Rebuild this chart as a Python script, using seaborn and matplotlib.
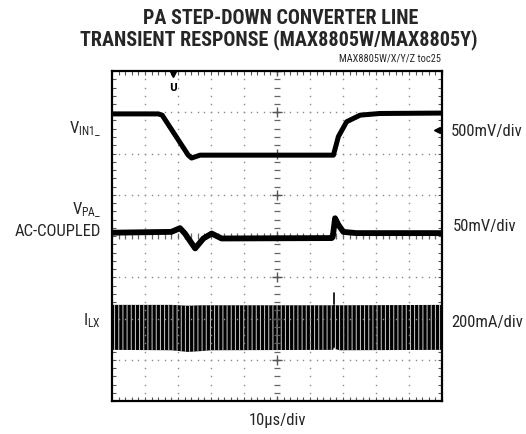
import numpy as np
import matplotlib
matplotlib.use("Agg")
import matplotlib.pyplot as plt
from matplotlib import font_manager
import seaborn as sns

# ---------------- data (in screen divisions: x 0..10, y -4..4) ----------------
vin_t = [0.0, 1.40, 1.52, 2.31, 2.41, 2.67, 6.71, 6.86, 7.11, 7.52, 8.12, 10.0]
vin_v = [2.96, 2.96, 2.93, 1.96, 1.89, 1.96, 1.96, 2.41, 2.77, 2.93, 2.97, 2.98]

vpa_t = [0.0, 1.80, 2.06, 2.21, 2.52, 2.77, 3.02, 3.32, 6.66, 6.69, 6.76, 6.86, 7.01, 7.40, 10.0]
vpa_v = [0.08, 0.10, 0.19, 0.06, -0.30, -0.06, 0.06, -0.06, -0.05, -0.02, 0.43, 0.27, 0.10, 0.07, 0.07]

ilx_t = [0.0, 1.80, 2.30, 2.70, 3.00, 6.70, 6.73, 6.76, 6.90, 10.0]
ilx_top = [-1.67, -1.67, -1.69, -1.68, -1.68, -1.68, -1.66, -1.68, -1.68, -1.67]
ilx_bot = [-2.76, -2.77, -2.81, -2.79, -2.77, -2.76, -2.69, -2.74, -2.77, -2.76]
ilx_spike_t = [6.73, 6.73]
ilx_spike_v = [-1.66, -1.38]

title_lines = ["PA STEP-DOWN CONVERTER LINE", "TRANSIENT RESPONSE (MAX8805W/MAX8805Y)"]
toc_label = "MAX8805W/X/Y/Z toc25"
left_labels = [r"V$_{\mathregular{IN1\_}}$", r"V$_{\mathregular{PA\_}}$", "AC-COUPLED", r"I$_{\mathregular{LX}}$"]
right_labels = ["500mV/div", "50mV/div", "200mA/div"]
x_label = "10\u00b5s/div"

# ---------------- fonts ----------------
sns.set_style("white")
entries = font_manager.fontManager.ttflist
names = {f.name for f in entries}
def weights(n):
    return {f.weight if isinstance(f.weight, int) else 400 for f in entries if f.name == n}
cands = ["Roboto Condensed", "Liberation Sans Narrow", "Archivo Narrow", "PT Sans Narrow",
         "Arimo Narrow", "IBM Plex Sans Condensed", "Encode Sans Condensed", "Barlow Condensed",
         "Open Sans Condensed", "Fira Sans Condensed", "Asap Condensed", "Saira Condensed",
         "Sofia Sans Condensed", "Noto Sans Display"]
narrow = next((c for c in cands if c in names), "DejaVu Sans")
bold_font = next((c for c in cands if c in names and any(w >= 700 for w in weights(c))), narrow)
plt.rcParams["font.family"] = [narrow, "DejaVu Sans"]
plt.rcParams["mathtext.fontset"] = "custom"
plt.rcParams["mathtext.rm"] = narrow
plt.rcParams["mathtext.it"] = narrow
plt.rcParams["hatch.linewidth"] = 0.7

fig = plt.figure(figsize=(5.26, 4.34), dpi=100)
ax = fig.add_axes([112 / 526, 33 / 434, 330 / 526, 330 / 434])
ax.set_xlim(0, 10)
ax.set_ylim(-4, 4)

for s in ax.spines.values():
    s.set_linewidth(1.6)
    s.set_color("black")

ax.set_xticks(np.arange(0, 10.01, 1))
ax.set_yticks(np.arange(-4, 4.01, 1))
ax.set_xticks(np.arange(0, 10.01, 0.2), minor=True)
ax.set_yticks(np.arange(-4, 4.01, 0.2), minor=True)
ax.tick_params(which="both", direction="in", length=3, width=0.8, color="#555555",
               top=True, right=True, bottom=True, left=True,
               labelbottom=False, labelleft=False)

# dotted graticule
dot_c = "#8a8a8a"
ys_minor = np.arange(-4, 4.01, 0.2)
xs_minor = np.arange(0, 10.01, 0.2)
for gx in range(1, 10):
    if gx == 5:
        continue
    ax.plot(np.full_like(ys_minor, gx), ys_minor, ls="none", marker="s", ms=1.0, color=dot_c, mew=0)
for gy in range(-3, 4):
    if gy == 0:
        continue
    ax.plot(xs_minor, np.full_like(xs_minor, gy), ls="none", marker="s", ms=1.0, color=dot_c, mew=0)
# centre cross with ticks
ax.plot(np.full_like(ys_minor, 5), ys_minor, ls="none", marker="_", ms=5, mew=0.9, color="#666666")
ax.plot(xs_minor, np.zeros_like(xs_minor), ls="none", marker="|", ms=5, mew=0.9, color="#666666")
ax.plot(np.full(9, 5.0), np.arange(-4, 4.01, 1), ls="none", marker="+", ms=7, mew=1.0, color="#555555")

# ---------------- traces ----------------
sns.lineplot(x=vin_t, y=vin_v, ax=ax, color="black", linewidth=3.6, sort=False, estimator=None)
sns.lineplot(x=vpa_t, y=vpa_v, ax=ax, color="black", linewidth=4.2, sort=False, estimator=None)
ax.fill_between(ilx_t, ilx_bot, ilx_top, facecolor="black", edgecolor="#cfcfcf", hatch="||||", linewidth=0)
sns.lineplot(x=ilx_spike_t, y=ilx_spike_v, ax=ax, color="black", linewidth=1.2, sort=False, estimator=None)

# trigger markers
ax.plot([1.85], [3.92], marker="v", ms=5, color="black", clip_on=False)
ax.text(1.85, 3.6, "U", ha="center", va="center", fontsize=7, fontweight="bold", color="black",
        family="DejaVu Sans")
ax.plot([9.85], [2.57], marker="<", ms=5, color="black")

ax.set_xlabel("")
ax.set_ylabel("")

# ---------------- text ----------------
fig.text(281 / 526, 1 - 19 / 434, title_lines[0], ha="center", va="center", fontsize=14.5,
         fontweight="black", family=[bold_font, "DejaVu Sans"])
fig.text(279 / 526, 1 - 40 / 434, title_lines[1], ha="center", va="center", fontsize=14.5,
         fontweight="black", family=[bold_font, "DejaVu Sans"])
fig.text(441 / 526, 1 - 59 / 434, toc_label, ha="right", va="center", fontsize=7.5)

lab_fs = 12
fig.text(101 / 526, 1 - 129 / 434, left_labels[0], ha="right", va="center", fontsize=lab_fs)
fig.text(101 / 526, 1 - 210 / 434, left_labels[1], ha="right", va="center", fontsize=lab_fs)
fig.text(101 / 526, 1 - 231 / 434, left_labels[2], ha="right", va="center", fontsize=lab_fs)
fig.text(101 / 526, 1 - 321 / 434, left_labels[3], ha="right", va="center", fontsize=lab_fs)

fig.text(451 / 526, 1 - 131 / 434, right_labels[0], ha="left", va="center", fontsize=lab_fs)
fig.text(453 / 526, 1 - 227 / 434, right_labels[1], ha="left", va="center", fontsize=lab_fs)
fig.text(451 / 526, 1 - 323 / 434, right_labels[2], ha="left", va="center", fontsize=lab_fs)

fig.text(277 / 526, 1 - 420 / 434, x_label, ha="center", va="center", fontsize=lab_fs)

fig.savefig("out.png", dpi=100)
